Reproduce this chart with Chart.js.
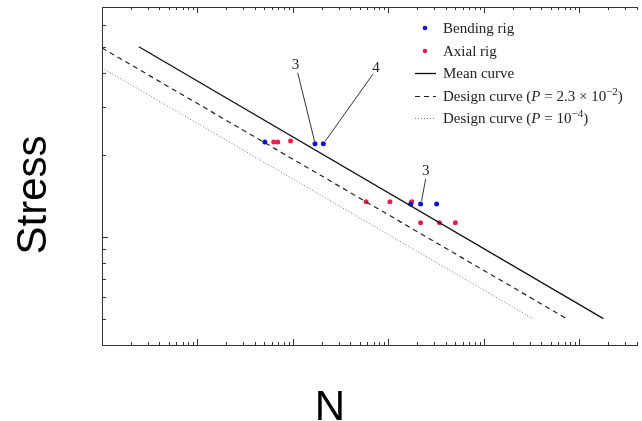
<!DOCTYPE html>
<html>
<head>
<meta charset="utf-8">
<script src="https://cdn.jsdelivr.net/npm/chart.js@4.4.1/dist/chart.umd.min.js"></script>
<style>
  html, body { margin: 0; padding: 0; background: #fff; }
  #wrap { width: 642px; height: 421px; }
</style>
</head>
<body>
<div id="wrap"><canvas id="snChart"></canvas></div>
<script>
// S-N data (N = cycles, stress on a log axis)
var bendingN = [5.07e5, 1.70e6, 2.08e6, 1.71e7, 2.17e7, 3.19e7];
var bendingS = [223, 220, 220, 132, 132, 132];

var axialN = [6.29e5, 6.92e5, 9.44e5, 5.82e6, 1.035e7, 1.75e7, 2.17e7, 3.42e7, 5.02e7];
var axialS = [223, 223, 225, 134.5, 134.5, 134.5, 112.6, 112.6, 112.6];

var meanN = [2.43e4, 1.78e9];
var meanS = [500, 50];
var design23N = [1e4, 7.33e8];
var design23S = [495, 50];
var design4N = [1e4, 3.25e8];
var design4S = [418, 50];

var seriesLabels = ['Bending rig', 'Axial rig', 'Mean curve',
  'Design curve (P = 2.3 × 10^{−2})', 'Design curve (P = 10^{−4})'];

// axis ranges
var nMin = 1e4, nMax = 4.1e9;
var sMin = 40, sMax = 700;

// callouts: number of specimens at a point
var noteText = ['3', '4', '3'];
var noteTextN = [1.06e6, 7.4e6, 2.45e7];
var noteTextS = [429, 418, 175];
var noteFromN = [1.12e6, 6.89e6, 2.45e7];
var noteFromS = [401, 397, 163];
var noteToN = [1.68e6, 2.18e6, 2.22e7];
var noteToS = [225, 225, 135.6];

function pairs(xs, ys) {
  return xs.map(function (x, i) { return { x: x, y: ys[i] }; });
}

function logTicks(min, max) {
  var out = [];
  for (var e = Math.floor(Math.log10(min)); e <= Math.ceil(Math.log10(max)); e++) {
    for (var m = 1; m < 10; m++) {
      var v = m * Math.pow(10, e);
      if (v >= min * 0.999 && v <= max * 1.001) out.push({ value: v, major: m === 1 });
    }
  }
  return out;
}

// frame with inward ticks, like the original plot
var framePlugin = {
  id: 'frame',
  afterDatasetsDraw: function (chart) {
    var ctx = chart.ctx, a = chart.chartArea;
    var xs = chart.scales.x, ys = chart.scales.y;
    ctx.save();
    ctx.strokeStyle = '#333';
    ctx.lineWidth = 1;
    ctx.beginPath();
    ctx.moveTo(a.left + 0.5, a.top + 0.5);
    ctx.lineTo(a.right, a.top + 0.5);
    ctx.moveTo(a.left + 0.5, a.top);
    ctx.lineTo(a.left + 0.5, a.bottom + 0.5);
    ctx.lineTo(a.right, a.bottom + 0.5);
    logTicks(nMin, nMax).forEach(function (t) {
      var px = Math.round(xs.getPixelForValue(t.value)) + 0.5;
      var len = t.major ? 6 : 3;
      ctx.moveTo(px, a.bottom);
      ctx.lineTo(px, a.bottom - len);
      ctx.moveTo(px, a.top);
      ctx.lineTo(px, a.top + len);
    });
    logTicks(sMin, sMax).forEach(function (t) {
      var py = Math.round(ys.getPixelForValue(t.value)) + 0.5;
      var len = t.major ? 6 : 4;
      ctx.moveTo(a.left, py);
      ctx.lineTo(a.left + len, py);
    });
    ctx.stroke();

    // callouts
    ctx.fillStyle = '#222';
    ctx.font = '15px "Liberation Serif"';
    ctx.textAlign = 'center';
    ctx.textBaseline = 'middle';
    ctx.lineWidth = 1;
    ctx.strokeStyle = '#333';
    for (var i = 0; i < noteText.length; i++) {
      ctx.beginPath();
      ctx.moveTo(xs.getPixelForValue(noteFromN[i]), ys.getPixelForValue(noteFromS[i]));
      ctx.lineTo(xs.getPixelForValue(noteToN[i]), ys.getPixelForValue(noteToS[i]));
      ctx.stroke();
      ctx.fillText(noteText[i], xs.getPixelForValue(noteTextN[i]), ys.getPixelForValue(noteTextS[i]));
    }

    // axis titles
    ctx.fillStyle = '#000';
    ctx.font = '42px "Liberation Sans"';
    ctx.textBaseline = 'alphabetic';
    ctx.fillText('N', 330, 420);
    ctx.translate(46, 195);
    ctx.rotate(-Math.PI / 2);
    ctx.fillText('Stress', 0, 0);
    ctx.restore();
  }
};

// draws a label, italic P and ^{..} superscripts
function drawRich(ctx, text, x, y, size) {
  var parts = text.split(/(\^\{[^}]*\}|\bP\b)/);
  parts.forEach(function (p) {
    if (!p) return;
    var sup = false, italic = false;
    if (p.indexOf('^{') === 0) { p = p.slice(2, -1); sup = true; }
    else if (p === 'P') italic = true;
    var fs = sup ? Math.round(size * 0.7) : size;
    ctx.font = (italic ? 'italic ' : '') + fs + 'px "Liberation Serif"';
    ctx.fillText(p, x, sup ? y - size * 0.38 : y);
    x += ctx.measureText(p).width;
  });
}

var legendPlugin = {
  id: 'innerLegend',
  afterDraw: function (chart) {
    var ctx = chart.ctx;
    var rowY = [28, 51, 73, 96, 118];
    ctx.save();
    chart.data.datasets.forEach(function (ds, i) {
      var y = rowY[i];
      if (ds.showLine) {
        ctx.strokeStyle = ds.borderColor;
        ctx.lineWidth = ds.borderWidth;
        ctx.setLineDash(ds.borderDash || []);
        ctx.beginPath();
        ctx.moveTo(415, y + 0.5);
        ctx.lineTo(436, y + 0.5);
        ctx.stroke();
        ctx.setLineDash([]);
      } else {
        ctx.fillStyle = ds.backgroundColor;
        ctx.beginPath();
        ctx.arc(425, y, 2.3, 0, Math.PI * 2);
        ctx.fill();
      }
      ctx.fillStyle = '#222';
      ctx.textBaseline = 'alphabetic';
      ctx.textAlign = 'left';
      drawRich(ctx, ds.label, 443, y + 5, 15);
    });
    ctx.restore();
  }
};

var ctx = document.getElementById('snChart').getContext('2d');
var snChart = new Chart(ctx, {
  type: 'scatter',
  data: {
    datasets: [
      {
        label: seriesLabels[0],
        data: pairs(bendingN, bendingS),
        backgroundColor: '#1414c8',
        borderColor: '#1414c8',
        pointRadius: 2.5,
        pointBorderWidth: 0,
        order: 2
      },
      {
        label: seriesLabels[1],
        data: pairs(axialN, axialS),
        backgroundColor: '#e6204c',
        borderColor: '#e6204c',
        pointRadius: 2.5,
        pointBorderWidth: 0,
        order: 2
      },
      {
        label: seriesLabels[2],
        data: pairs(meanN, meanS),
        showLine: true,
        borderColor: '#111',
        borderWidth: 1.3,
        pointRadius: 0,
        order: 1
      },
      {
        label: seriesLabels[3],
        data: pairs(design23N, design23S),
        showLine: true,
        borderColor: '#222',
        borderWidth: 1.2,
        borderDash: [5, 4],
        pointRadius: 0,
        order: 1
      },
      {
        label: seriesLabels[4],
        data: pairs(design4N, design4S),
        showLine: true,
        borderColor: '#777',
        borderWidth: 1,
        borderDash: [1, 2],
        pointRadius: 0,
        order: 1
      }
    ]
  },
  options: {
    responsive: true,
    maintainAspectRatio: false,
    animation: false,
    layout: { padding: { left: 102, top: 7, right: 0, bottom: 76 } },
    plugins: {
      legend: { display: false },
      tooltip: { enabled: false }
    },
    scales: {
      x: { type: 'logarithmic', min: nMin, max: nMax, display: false },
      y: { type: 'logarithmic', min: sMin, max: sMax, display: false }
    }
  },
  plugins: [framePlugin, legendPlugin]
});
</script>
</body>
</html>
